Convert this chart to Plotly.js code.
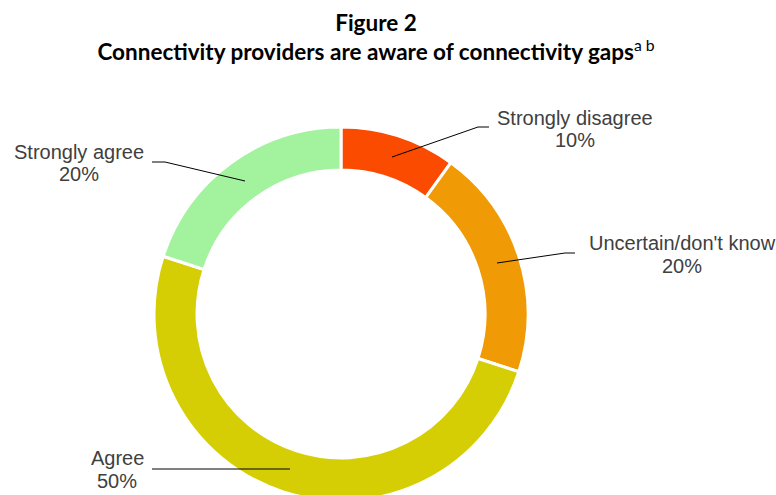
<!DOCTYPE html>
<html>
<head>
<meta charset="utf-8">
<script src="https://cdn.plot.ly/plotly-3.0.1.min.js"></script>
<style>
  html, body { margin: 0; padding: 0; overflow: hidden; background: #ffffff; }
  #chart { width: 776px; height: 510px; }
</style>
</head>
<body>
<div id="chart"></div>
<script>
// ---- data ----
const categories = ["Strongly disagree", "Uncertain/don't know", "Agree", "Strongly agree"];
const shares = [10, 20, 50, 20];
const sliceColors = ["#FA4B00", "#F09B05", "#D6CE04", "#A2F29E"];
const titleLine1 = "Figure 2";
const titleLine2 = "Connectivity providers are aware of connectivity gaps";
const titleNotes = "a b";

// ---- layout helpers (pixel -> paper) ----
const W = 776, H = 510;
const px = x => x / W;
const py = y => 1 - y / H;

// label placement (pixels) per category, in order
const labelPos = [
  {x: 575, y1: 118, y2: 140},
  {x: 682, y1: 243, y2: 266},
  {x: 117, y1: 458, y2: 481},
  {x: 79,  y1: 152, y2: 174}
];
const leaders = [
  [[392,157],[478,127],[489,127]],
  [[497,263],[565,253],[575,253]],
  [[152,469],[290,469]],
  [[245,181],[165,162],[152,162]]
];

const labelFont = {family: "Liberation Sans, Arial, sans-serif", size: 20, color: "#404040"};

const annotations = [];
categories.forEach((c, i) => {
  annotations.push({xref: "paper", yref: "paper", x: px(labelPos[i].x), y: py(labelPos[i].y1),
    xanchor: "center", yanchor: "middle", text: c, showarrow: false, font: labelFont});
  annotations.push({xref: "paper", yref: "paper", x: px(labelPos[i].x), y: py(labelPos[i].y2),
    xanchor: "center", yanchor: "middle", text: shares[i] + "%", showarrow: false, font: labelFont});
});

const shapes = leaders.map(pts => ({
  type: "path", xref: "paper", yref: "paper",
  path: pts.map((p, k) => (k === 0 ? "M" : "L") + px(p[0]) + "," + py(p[1])).join(" "),
  line: {color: "#000000", width: 1}
}));

const trace = {
  type: "pie",
  labels: categories,
  values: shares,
  sort: false,
  direction: "clockwise",
  rotation: 0,
  hole: 0.77,
  marker: {colors: sliceColors, line: {color: "#ffffff", width: 3}},
  textinfo: "none",
  hoverinfo: "label+percent",
  showlegend: false,
  automargin: false,
  domain: {x: [px(154), px(528)], y: [py(501), py(127)]}
};

const layout = {
  width: W, height: H,
  margin: {l: 0, r: 0, t: 0, b: 0},
  paper_bgcolor: "#ffffff",
  plot_bgcolor: "#ffffff",
  showlegend: false,
  title: {
    text: "<b>" + titleLine1 + "</b><br><b>" + titleLine2 + "</b><sup>" + titleNotes + "</sup>",
    font: {family: "Lato, Open Sans, sans-serif", size: 22.5, color: "#000000"},
    x: px(376), xanchor: "center", xref: "paper",
    y: 1 - 31 / H, yanchor: "top", yref: "container"
  },
  annotations: annotations,
  shapes: shapes
};

Plotly.newPlot("chart", [trace], layout, {displayModeBar: false, staticPlot: true});
</script>
</body>
</html>
